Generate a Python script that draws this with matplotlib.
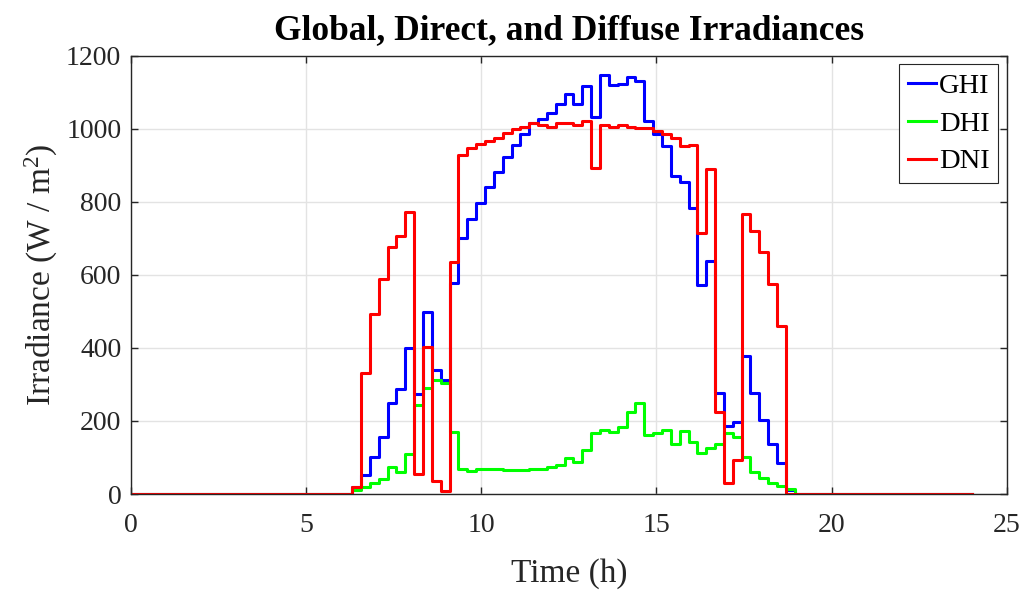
import numpy as np
import matplotlib
matplotlib.use("Agg")
import matplotlib.pyplot as plt

# 96 samples over the day, drawn as stairs (MATLAB style)
time_h = np.linspace(0, 24, 96)
first_idx = 25  # first sample with sunlight

ghi_day = [20, 52, 100, 157, 248, 287, 401, 273, 497, 339,
           312, 578, 700, 752, 797, 841, 881, 923, 955, 985,
           1015, 1026, 1042, 1068, 1094, 1069, 1117, 1031, 1147, 1121,
           1122, 1141, 1130, 1021, 987, 953, 870, 855, 784, 572,
           638, 277, 186, 196, 378, 277, 204, 136, 84, 12]
dhi_day = [11, 20, 29, 40, 73, 61, 110, 245, 291, 312,
           303, 169, 68, 64, 68, 68, 68, 66, 66, 66,
           68, 69, 73, 80, 98, 87, 120, 168, 175, 169,
           183, 225, 248, 161, 168, 175, 137, 172, 143, 111,
           125, 137, 166, 157, 100, 59, 43, 31, 23, 13]
dni_day = [18, 332, 492, 590, 677, 706, 773, 55, 402, 36,
           9, 636, 928, 946, 958, 966, 974, 989, 998, 1005,
           1015, 1010, 1005, 1015, 1017, 1010, 1021, 892, 1010, 1006,
           1010, 1006, 1001, 1001, 994, 985, 976, 953, 955, 715,
           890, 224, 31, 93, 768, 720, 663, 575, 461, 0]


def full_day(vals):
    y = np.zeros(len(time_h))
    y[first_idx:first_idx + len(vals)] = vals
    return y


ghi = full_day(ghi_day)
dhi = full_day(dhi_day)
dni = full_day(dni_day)

plt.rcParams['font.family'] = ['Liberation Serif', 'DejaVu Serif']
plt.rcParams['mathtext.fontset'] = 'custom'
plt.rcParams['mathtext.rm'] = 'Liberation Serif'
plt.rcParams['mathtext.it'] = 'Liberation Serif:italic'

fig = plt.figure(figsize=(10.26, 5.92), dpi=100)
ax = fig.add_axes([0.1277, 0.1655, 0.8535, 0.7404])

ax.step(time_h, ghi, where='post', color=(0, 0, 1), lw=2.2, label='GHI')
ax.step(time_h, dhi, where='post', color=(0, 1, 0), lw=2.2, label='DHI')
ax.step(time_h, dni, where='post', color=(1, 0, 0), lw=2.2, label='DNI')

ax.set_xlim(0, 25)
ax.set_ylim(0, 1200)
ax.set_xticks(np.arange(0, 26, 5))
ax.set_yticks(np.arange(0, 1201, 200))
ax.grid(True, color='#e3e3e3', lw=1)
ax.set_axisbelow(True)
ax.tick_params(direction='in', length=5, width=1, top=True, right=True,
               labelsize=20, colors='#262626')
ax.tick_params(axis='x', pad=14)
ax.tick_params(axis='y', pad=7)
for sp in ax.spines.values():
    sp.set_color('#262626')
    sp.set_linewidth(1)

ax.set_xlabel('Time (h)', fontsize=24, color='#262626', labelpad=14)
ax.set_ylabel(r'Irradiance (W / m$^{2}$)', fontsize=24, color='#262626', labelpad=4)
ax.set_title('Global, Direct, and Diffuse Irradiances', fontsize=25.5,
             fontweight='bold', pad=12)

leg = ax.legend(loc='upper right', fontsize=20.5, fancybox=False,
                edgecolor='#262626', framealpha=1, handlelength=1.0,
                handletextpad=0.1, labelspacing=0.42, borderpad=0.3,
                borderaxespad=0.3)
leg.get_frame().set_linewidth(0.8)

fig.savefig('out.png', dpi=100)
